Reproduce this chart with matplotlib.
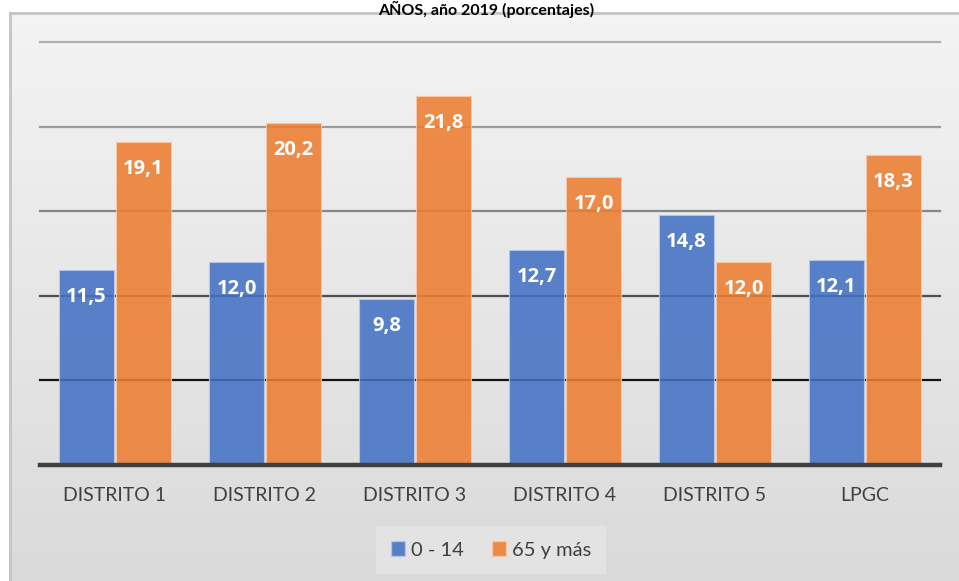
import numpy as np
import matplotlib
matplotlib.use("Agg")
import matplotlib.pyplot as plt
from matplotlib.lines import Line2D
from matplotlib.patches import Patch

categorias = ["DISTRITO 1", "DISTRITO 2", "DISTRITO 3", "DISTRITO 4", "DISTRITO 5", "LPGC"]
jovenes = [11.5, 12.0, 9.8, 12.7, 14.8, 12.1]
mayores = [19.1, 20.2, 21.8, 17.0, 12.0, 18.3]
series = ["0 - 14", "65 y más"]
titulo = "AÑOS, año 2019 (porcentajes)"

plt.rcParams["font.family"] = ["Lato", "DejaVu Sans"]

W, H = 959, 581
fig = plt.figure(figsize=(W / 100, H / 100), dpi=100)
fig.patch.set_facecolor("white")

# Gradient background of the chart area
bg = fig.add_axes([10 / W, 0, 1 - 10 / W, (H - 13) / H], zorder=-5)
grad = np.linspace(0, 1, 256).reshape(-1, 1)
top_c = np.array([0.955, 0.955, 0.955])
bot_c = np.array([0.855, 0.855, 0.855])
img = top_c[None, None, :] * (1 - grad[:, :, None]) + bot_c[None, None, :] * grad[:, :, None]
bg.imshow(img, aspect="auto", extent=[0, 1, 0, 1], origin="upper")
bg.set_axis_off()

# Frame edges
fig.add_artist(Line2D([10 / W, 10 / W], [0, (H - 13) / H], color="#c4c4c4", lw=2, transform=fig.transFigure))
fig.add_artist(Line2D([10 / W, 1], [(H - 13) / H, (H - 13) / H], color="#c4c4c4", lw=2, transform=fig.transFigure))

ax = fig.add_axes([40 / W, (H - 465) / H, 900 / W, (465 - 42) / H])
ax.set_facecolor("none")
ax.set_xlim(-0.5, len(categorias) - 0.5)
ax.set_ylim(0, 25)

grid_colors = {5: "#151515", 10: "#4e4e4e", 15: "#858585", 20: "#9c9c9c", 25: "#b0b0b0"}
for lvl, c in grid_colors.items():
    ax.axhline(lvl, color=c, lw=1.6, zorder=1, clip_on=False)

x = np.arange(len(categorias))
w = 0.37
off = 0.19
b1 = ax.bar(x - off, jovenes, w, color="#4472C4", alpha=0.88, edgecolor="#b8c8ea", linewidth=0.8, zorder=2)
b2 = ax.bar(x + off, mayores, w, color="#ED7D31", alpha=0.88, edgecolor="#f7c9a8", linewidth=0.8, zorder=2)

ax.axhline(0, color="#404040", lw=3.2, zorder=3, clip_on=False)

for bars, vals in ((b1, jovenes), (b2, mayores)):
    for rect, v in zip(bars, vals):
        ax.annotate(f"{v:.1f}".replace(".", ","),
                    (rect.get_x() + rect.get_width() / 2, v),
                    xytext=(0, -27), textcoords="offset pixels",
                    ha="center", va="center", color="white",
                    fontsize=14.5, fontweight="bold", family=["Open Sans", "DejaVu Sans"],
                    zorder=4)

ax.set_xticks(x)
ax.set_xticklabels(categorias, fontsize=14, color="#404040")
ax.tick_params(axis="x", length=0, pad=16)
ax.set_yticks([])
for s in ax.spines.values():
    s.set_visible(False)

handles = [Patch(facecolor="#4472C4", alpha=0.88, edgecolor="#b8c8ea"),
           Patch(facecolor="#ED7D31", alpha=0.88, edgecolor="#f7c9a8")]
leg = fig.legend(handles, series, loc="center", bbox_to_anchor=(491 / W, 1 - 550 / H),
                 ncol=2, frameon=True, fontsize=14.5, handlelength=0.7, handleheight=0.7,
                 handletextpad=0.3, columnspacing=1.4, borderpad=0.75, fancybox=False)
leg.get_frame().set_facecolor("#e6e6e6")
leg.get_frame().set_edgecolor("none")
for t in leg.get_texts():
    t.set_color("#404040")

fig.text(486 / W, 1 - 1 / H, titulo, ha="center", va="top",
         fontsize=11.5, fontweight="bold", color="black")

fig.savefig("out.png", dpi=100)
